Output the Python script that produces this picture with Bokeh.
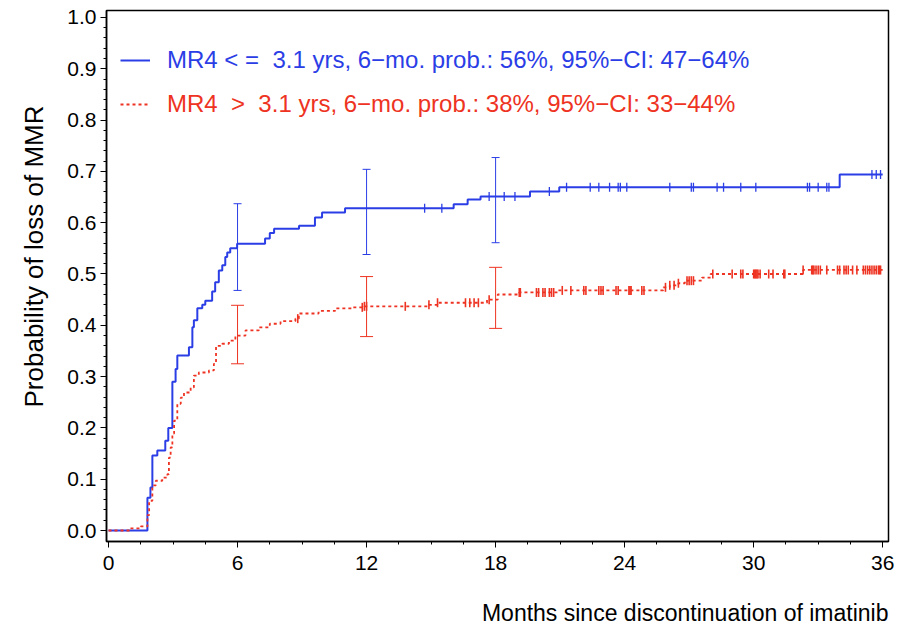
import numpy as np
from bokeh.plotting import figure
from bokeh.models import (Range1d, FixedTicker, Legend, LegendItem, Title,
                          Whisker, TeeHead, ColumnDataSource)
from bokeh.embed import file_html
from bokeh.resources import INLINE

# ---------------- data ----------------
blue_t = [0, 1.81, 1.95, 2.04, 2.27, 2.64, 2.78, 2.97, 3.12, 3.2, 3.74, 3.9, 3.97,
          4.13, 4.36, 4.5, 4.82, 4.96, 5.13, 5.29, 5.43, 5.52, 5.66, 5.98, 7.28,
          7.5, 7.7, 8.86, 9.6, 9.93, 11.0, 16.05, 16.7, 17.3, 19.6, 20.96, 34.0, 36.0]
blue_p = [0, 0.064, 0.084, 0.146, 0.156, 0.175, 0.2, 0.29, 0.315, 0.341, 0.357,
          0.396, 0.41, 0.433, 0.44, 0.448, 0.466, 0.484, 0.507, 0.517, 0.533,
          0.542, 0.55, 0.559, 0.569, 0.58, 0.588, 0.594, 0.61, 0.62, 0.628, 0.636,
          0.645, 0.651, 0.661, 0.669, 0.694, 0.694]

red_t = [0, 1.0, 1.5, 1.81, 1.89, 2.04, 2.2, 2.5, 2.74, 2.81, 2.89, 2.97, 3.05,
         3.2, 3.36, 3.51, 3.82, 3.97, 4.2, 4.67, 4.9, 5.0, 5.29, 5.6, 5.9, 6.37,
         6.99, 7.5, 8.0, 8.69, 8.85, 9.77, 10.54, 11.3, 11.9, 14.9, 15.3, 17.6,
         18.1, 19.1, 20.9, 25.8, 26.1, 26.5, 26.8, 27.6, 28.0, 32.3, 36.0]
red_p = [0, 0.004, 0.008, 0.03, 0.058, 0.088, 0.097, 0.103, 0.11, 0.142, 0.162,
         0.189, 0.214, 0.247, 0.259, 0.269, 0.279, 0.302, 0.308, 0.312, 0.325,
         0.36, 0.364, 0.37, 0.38, 0.39, 0.396, 0.403, 0.408, 0.413, 0.423, 0.428,
         0.433, 0.435, 0.437, 0.44, 0.444, 0.45, 0.46, 0.464, 0.468, 0.474, 0.478,
         0.482, 0.487, 0.493, 0.5, 0.508, 0.508]

blue_censor = [14.7, 15.5, 17.7, 18.4, 18.9, 20.5, 21.3, 22.4, 22.8, 23.3, 23.7,
               23.8, 24.1, 26.1, 27.1, 27.2, 28.3, 28.6, 29.4, 30.1, 32.5, 32.6,
               33.0, 33.4, 33.5, 35.5, 35.7, 35.9]
red_censor = [8.8, 11.8, 11.9, 12.0, 13.8, 14.9, 15.3, 16.6, 16.8, 17.0, 17.2,
              17.7, 19.1, 19.15, 19.9, 20.0, 20.2, 20.3, 20.5, 20.6, 20.7, 21.1,
              21.5, 22.1, 22.2, 22.8, 22.9, 23.0, 23.6, 23.7, 24.2, 24.25, 24.3,
              24.8, 24.9, 25.9, 26.1, 26.3, 26.5, 26.9, 27.0, 27.1, 27.2, 28.1,
              29.0, 29.4, 29.5, 30.0, 30.05, 30.1, 30.15, 30.2, 30.3, 30.7, 30.9,
              31.4, 31.45, 32.3, 32.7, 32.75, 32.8, 32.9, 33.0, 33.1, 33.4, 33.9,
              34.0, 34.2, 34.3, 34.4, 34.6, 34.8, 35.1, 35.2, 35.3, 35.4, 35.5,
              35.6, 35.7, 35.8, 35.85, 35.9]

ci_months = [6, 12, 18]
blue_lower = [0.468, 0.538, 0.561]
blue_upper = [0.637, 0.704, 0.727]
red_lower = [0.325, 0.378, 0.394]
red_upper = [0.439, 0.495, 0.513]

x_ticks = [0, 6, 12, 18, 24, 30, 36]
y_ticks = [0.0, 0.1, 0.2, 0.3, 0.4, 0.5, 0.6, 0.7, 0.8, 0.9, 1.0]

NB = "\u00a0"
blue_label = f"MR4 < ={NB} 3.1 yrs, 6\u2212mo. prob.: 56%, 95%\u2212CI: 47\u221264%"
red_label = f"MR4 {NB}> {NB}3.1 yrs, 6\u2212mo. prob.: 38%, 95%\u2212CI: 33\u221244%"
x_title = "Months since discontinuation of imatinib"
y_title = "Probability of loss of MMR"

BLUE = "#2b3ee6"
RED = "#ee3322"
FONT = "Liberation Sans"


def step_value(ts, ps, t):
    ts = np.asarray(ts)
    idx = np.searchsorted(ts, t, side="right") - 1
    return list(np.asarray(ps)[idx])


p = figure(width=897, height=626, output_backend="svg", toolbar_location=None,
           x_range=Range1d(-0.093, 36.27), y_range=Range1d(-0.0214, 1.0136),
           min_border_left=104, min_border_right=9, min_border_top=10,
           min_border_bottom=85)

p.xgrid.visible = False
p.ygrid.visible = False
p.outline_line_color = "black"
p.outline_line_width = 1.5
p.background_fill_color = "white"
p.border_fill_color = "white"

# curves
r_blue = p.step(blue_t, blue_p, mode="after", line_color=BLUE, line_width=2)
r_red = p.step(red_t, red_p, mode="after", line_color=RED, line_width=1.8,
               line_dash="3 3")

# censor marks
p.scatter(blue_censor, step_value(blue_t, blue_p, blue_censor), marker="dash",
          angle=np.pi / 2, size=9, line_color=BLUE, line_width=1.3)
p.scatter(red_censor, step_value(red_t, red_p, red_censor), marker="dash",
          angle=np.pi / 2, size=9, line_color=RED, line_width=1.6)

# confidence intervals
src_b = ColumnDataSource(dict(x=ci_months, lower=blue_lower, upper=blue_upper))
src_r = ColumnDataSource(dict(x=ci_months, lower=red_lower, upper=red_upper))
p.add_layout(Whisker(source=src_b, base="x", lower="lower", upper="upper",
                     line_color=BLUE, line_width=1,
                     upper_head=TeeHead(size=8, line_color=BLUE, line_width=1),
                     lower_head=TeeHead(size=8, line_color=BLUE, line_width=1)))
p.add_layout(Whisker(source=src_r, base="x", lower="lower", upper="upper",
                     line_color=RED, line_width=1,
                     upper_head=TeeHead(size=13, line_color=RED, line_width=1),
                     lower_head=TeeHead(size=13, line_color=RED, line_width=1)))

# axes
p.xaxis.ticker = FixedTicker(ticks=x_ticks,
                             minor_ticks=list(np.arange(0, 36.01, 1.5)))
p.yaxis.ticker = FixedTicker(ticks=y_ticks,
                             minor_ticks=list(np.round(np.arange(0, 1.001, 0.02), 2)))
p.yaxis.major_label_overrides = {v: f"{v:.1f}" for v in y_ticks}
for ax in (p.xaxis[0], p.yaxis[0]):
    ax.axis_line_color = "black"
    ax.axis_line_width = 1.5
    ax.major_tick_out = 6
    ax.major_tick_in = 0
    ax.minor_tick_out = 3
    ax.minor_tick_in = 0
    ax.major_tick_line_color = "black"
    ax.minor_tick_line_color = "black"
    ax.major_label_text_font = FONT
    ax.major_label_text_font_size = "21px"
    ax.major_label_text_color = "black"
p.yaxis.major_label_standoff = 4
p.xaxis.major_label_standoff = 8

# invisible spacer below the x tick labels, then a right-aligned title
xa = p.xaxis[0]
xa.axis_label = " "
xa.axis_label_text_font_size = "1px"
xa.axis_label_standoff = 21
p.add_layout(Title(text=x_title, align="right", text_font=FONT,
                   text_font_size="23px", text_font_style="normal",
                   text_color="black", standoff=0), "below")

# y axis title
p.add_layout(Title(text=y_title, align="left", offset=134, text_font=FONT,
                   text_font_size="26px", text_font_style="normal",
                   text_color="black", standoff=32), "left")

# legends
for rend, lab, col, loc in [(r_blue, blue_label, BLUE, (14, 467)),
                            (r_red, red_label, RED, (14, 423))]:
    lg = Legend(items=[LegendItem(label=lab, renderers=[rend])], location=loc,
                border_line_color=None, background_fill_alpha=0,
                padding=0, margin=0, glyph_width=30, glyph_height=20,
                label_height=20, label_standoff=17, label_text_font=FONT,
                label_text_font_size="24px", label_text_color=col)
    p.add_layout(lg)

open("out.html", "w").write(file_html(p, INLINE))
